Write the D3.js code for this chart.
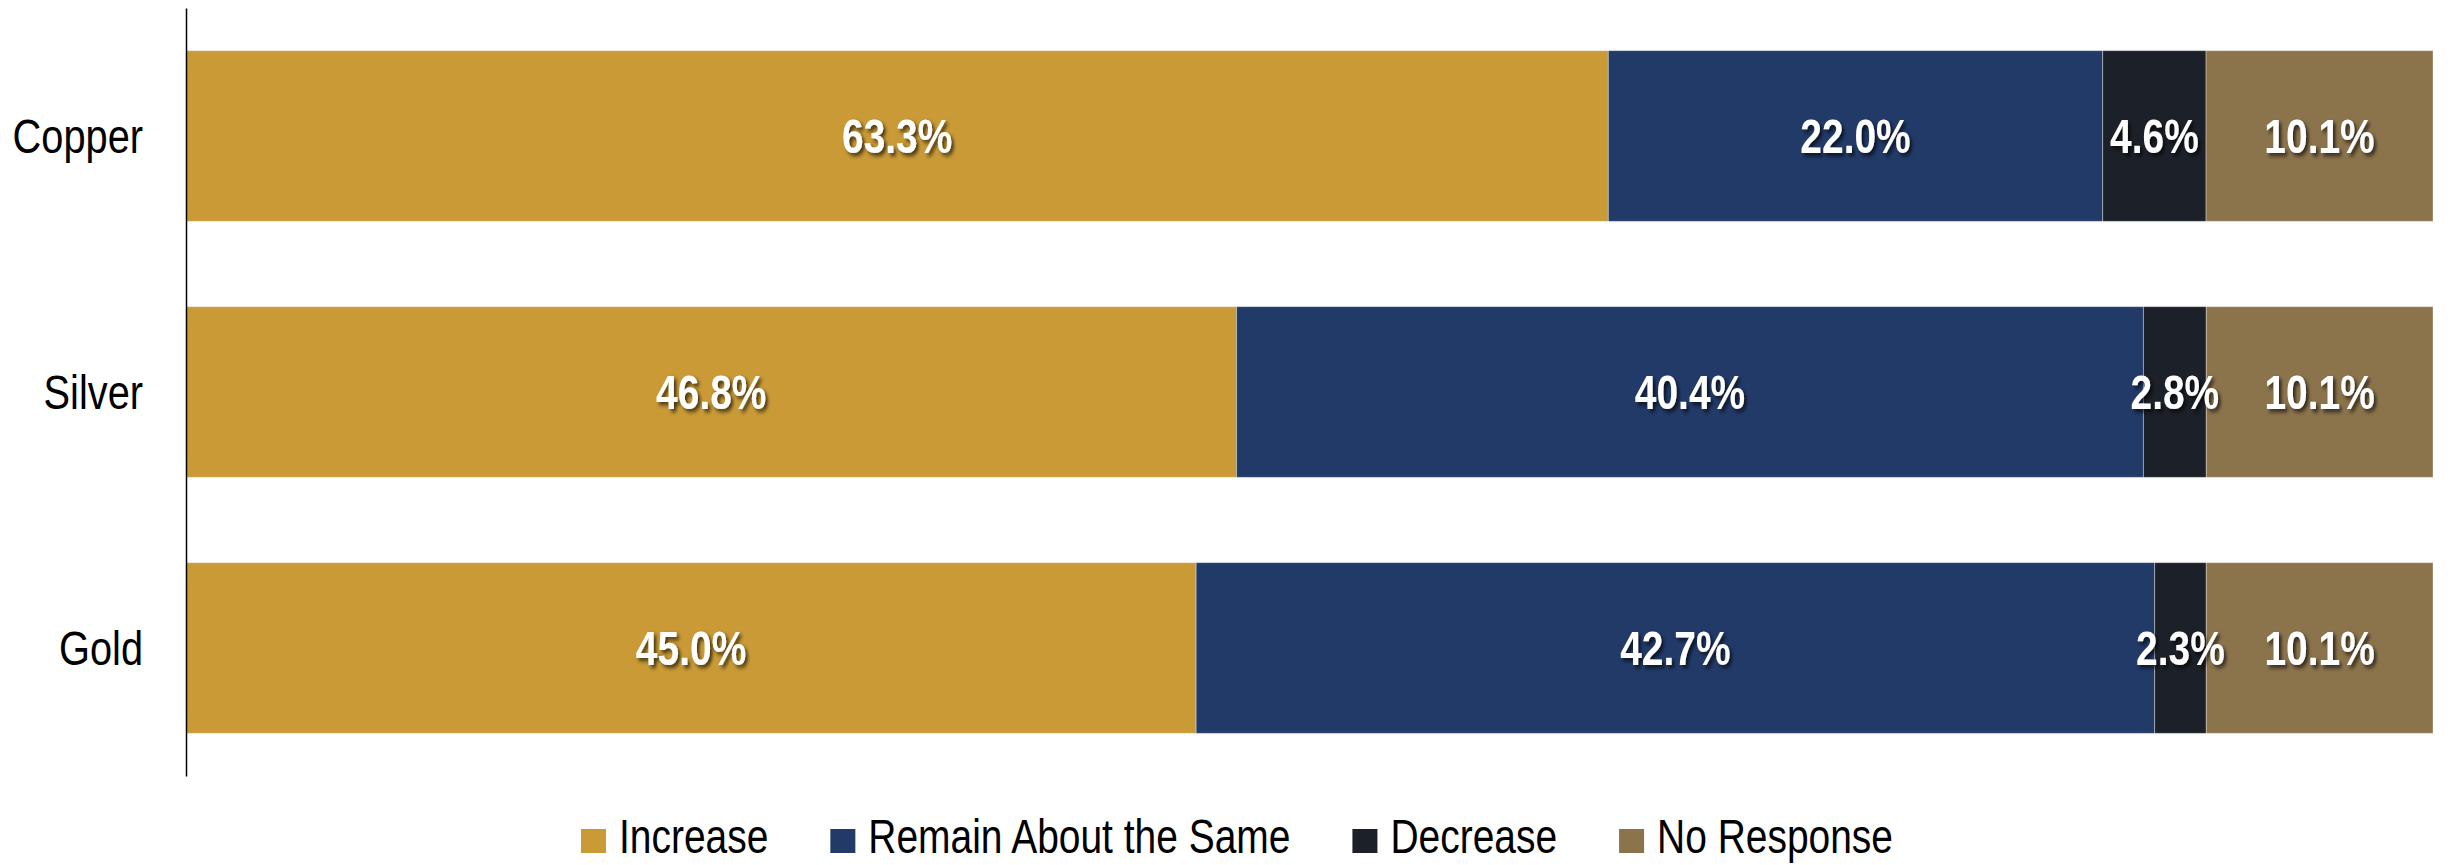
<!DOCTYPE html>
<html>
<head>
<meta charset="utf-8">
<script src="https://cdn.jsdelivr.net/npm/d3@7"></script>
<style>
  html, body { margin: 0; padding: 0; background: #ffffff; }
  svg { display: block; }
</style>
</head>
<body>
<div id="chart"></div>
<script>
// ---- Data ----
const categories = ["Copper", "Silver", "Gold"];
const seriesNames = ["Increase", "Remain About the Same", "Decrease", "No Response"];
const increase   = [63.3, 46.8, 45.0];
const remain     = [22.0, 40.4, 42.7];
const decrease   = [4.6, 2.8, 2.3];
const noResponse = [10.1, 10.1, 10.1];
const colors = ["#C99A36", "#213A68", "#1C2028", "#8B734C"];

// ---- Build table ----
const seriesValues = [increase, remain, decrease, noResponse];
const rows = categories.map((c, i) => {
  const r = { category: c };
  seriesNames.forEach((s, j) => { r[s] = seriesValues[j][i]; });
  return r;
});

// ---- Font detection ----
const ctx = document.createElement("canvas").getContext("2d");
ctx.font = "40px monospace";
const wMono = ctx.measureText("Copper Increase 10.1%").width;
ctx.font = "40px 'Liberation Sans Narrow', monospace";
const wNarrow = ctx.measureText("Copper Increase 10.1%").width;
const hasNarrow = Math.abs(wMono - wNarrow) > 0.5;
const FONT = hasNarrow ? "'Liberation Sans Narrow', 'Arial Narrow', sans-serif" : "'Liberation Sans', Arial, sans-serif";
const SX = hasNarrow ? 1 : 0.82;

const W = 2453, H = 865;
const svg = d3.select("#chart").append("svg").attr("width", W).attr("height", H);

const defs = svg.append("defs");
const f = defs.append("filter").attr("id", "shadow")
  .attr("x", "-20%").attr("y", "-30%").attr("width", "150%").attr("height", "170%");
f.append("feDropShadow").attr("dx", 3).attr("dy", 3).attr("stdDeviation", 2)
  .attr("flood-color", "#000").attr("flood-opacity", 0.65);

const x = d3.scaleLinear().domain([0, 1]).range([186, 2433]);
const y = d3.scaleBand().domain(categories).range([8, 776]).paddingInner(1/3).paddingOuter(1/6);

const stack = d3.stack().keys(seriesNames).offset(d3.stackOffsetExpand);
const stacked = stack(rows);

const layers = svg.append("g").selectAll("g").data(stacked).join("g")
  .attr("fill", (d, i) => colors[i]);

layers.selectAll("rect").data(d => d).join("rect")
  .attr("x", d => x(d[0]))
  .attr("y", d => y(d.data.category))
  .attr("width", d => x(d[1]) - x(d[0]))
  .attr("height", y.bandwidth())
  .attr("stroke", "rgba(255,255,255,0.35)")
  .attr("stroke-width", 1);

// value labels
const labels = svg.append("g");
stacked.forEach((layer) => {
  layer.forEach(d => {
    const cx = (x(d[0]) + x(d[1])) / 2;
    const cy = y(d.data.category) + y.bandwidth() / 2;
    labels.append("g")
      .attr("transform", `translate(${cx},${cy}) scale(${SX},1)`)
      .append("text")
      .attr("text-anchor", "middle")
      .attr("dy", "0.36em")
      .attr("font-family", FONT)
      .attr("font-weight", "bold")
      .attr("font-size", 47.5)
      .attr("fill", "#ffffff")
      .attr("filter", "url(#shadow)")
      .text(d.data[layer.key].toFixed(1) + "%");
  });
});

// y axis
const yAxis = d3.axisLeft(y).tickSize(0).tickPadding(0);
const gy = svg.append("g").attr("transform", "translate(186,0)").call(yAxis);
gy.select(".domain").attr("stroke", "#000").attr("stroke-width", 1.5);
gy.selectAll(".tick text").remove();
gy.selectAll(".tick").append("g")
  .attr("transform", `translate(-43,0) scale(${SX},1)`)
  .append("text")
  .attr("text-anchor", "end")
  .attr("dy", "0.36em")
  .attr("font-family", FONT)
  .attr("font-size", 48.5)
  .attr("fill", "#000")
  .text(d => d);

// legend
const legend = svg.append("g");
const items = legend.selectAll("g.item").data(seriesNames).join("g").attr("class", "item");
items.append("rect").attr("width", 25).attr("height", 24).attr("y", -24)
  .attr("fill", (d, i) => colors[i]);
items.append("g").attr("transform", `translate(38,0) scale(${SX},1)`)
  .append("text")
  .attr("font-family", FONT)
  .attr("font-size", 47.5)
  .attr("fill", "#000")
  .text(d => d);
const widths = [];
items.each(function() {
  const t = d3.select(this).select("text").node();
  widths.push(38 + t.getComputedTextLength() * SX);
});
const gap = 62;
const total = d3.sum(widths) + gap * (widths.length - 1);
let cur = 1237 - total / 2;
items.attr("transform", (d, i) => {
  const tx = cur;
  cur += widths[i] + gap;
  return `translate(${tx},853)`;
});
</script>
</body>
</html>
